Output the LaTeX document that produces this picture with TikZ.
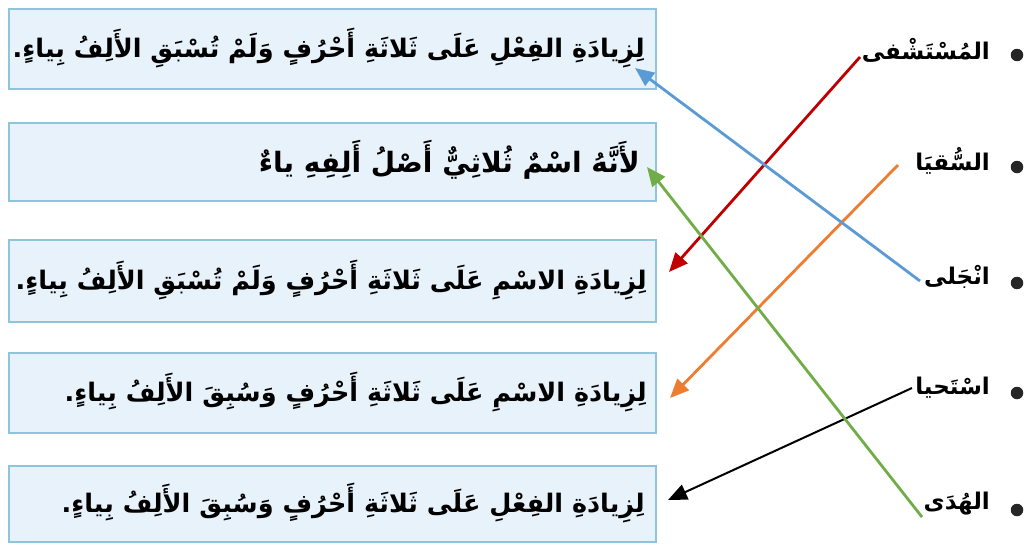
\documentclass[tikz,border=0pt]{standalone}
\usepackage{fontspec}
\usetikzlibrary{arrows.meta}
\TeXXeTstate=1
\newfontfamily\arabicfont[Script=Arabic]{DejaVu Sans}
\definecolor{boxfill}{HTML}{E8F2FA}
\definecolor{boxline}{HTML}{8EC5DC}
\definecolor{cred}{HTML}{C00000}
\definecolor{cblue}{HTML}{5B9BD5}
\definecolor{corange}{HTML}{ED7D31}
\definecolor{cgreen}{HTML}{70AD47}
\tikzset{
  box/.style={draw=boxline, line width=1.5pt, fill=boxfill, anchor=north west, minimum width=647pt, inner sep=0pt},
  btext/.style={anchor=east, font=\arabicfont\bfseries\fontsize{25.5}{30}\selectfont, inner sep=0pt},
  word/.style={anchor=east, font=\arabicfont\bfseries\fontsize{23}{27}\selectfont, inner sep=0pt},
  bullet/.style={circle, fill=black!85, minimum size=12.5pt, inner sep=0pt},
  link/.style={line width=2.8pt, -{Triangle[length=19pt,width=16pt]}},
}
\begin{document}
\begin{tikzpicture}[x=1pt,y=-1pt]
\useasboundingbox (0,0) rectangle (1029,549);
% boxes
\node[box, minimum height=80pt] (b1) at (8,8) {};
\node[box, minimum height=78pt] (b2) at (8,122) {};
\node[box, minimum height=82pt] (b3) at (8,239) {};
\node[box, minimum height=80pt] (b4) at (8,352) {};
\node[box, minimum height=76pt] (b5) at (8,465) {};
% box texts
\node[btext] (t1) at (645,48) {\beginR لِزِيادَةِ الفِعْلِ عَلَى ثَلاثَةِ أَحْرُفٍ وَلَمْ تُسْبَقِ الأَلِفُ بِياءٍ.\endR};
\node[btext, font=\arabicfont\bfseries\fontsize{28}{32}\selectfont] (t2) at (640,160) {\beginR لأَنَّهُ اسْمٌ ثُلاثِيٌّ أَصْلُ أَلِفِهِ ياءٌ\endR};
\node[btext] (t3) at (647,280) {\beginR لِزِيادَةِ الاسْمِ عَلَى ثَلاثَةِ أَحْرُفٍ وَلَمْ تُسْبَقِ الأَلِفُ بِياءٍ.\endR};
\node[btext] (t4) at (647,392) {\beginR لِزِيادَةِ الاسْمِ عَلَى ثَلاثَةِ أَحْرُفٍ وَسُبِقَ الأَلِفُ بِياءٍ.\endR};
\node[btext] (t5) at (645,503) {\beginR لِزِيادَةِ الفِعْلِ عَلَى ثَلاثَةِ أَحْرُفٍ وَسُبِقَ الأَلِفُ بِياءٍ.\endR};
% bullets and words
\node[bullet] (d1) at (1017,55) {};
\node[bullet] (d2) at (1017,167) {};
\node[bullet] (d3) at (1017,283) {};
\node[bullet] (d4) at (1017,393) {};
\node[bullet] (d5) at (1017,510) {};
\node[word] (w1) at (990,50) {\beginR المُسْتَشْفى\endR};
\node[word] (w2) at (990,161) {\beginR السُّقيَا\endR};
\node[word] (w3) at (990,277) {\beginR انْجَلى\endR};
\node[word] (w4) at (990,388) {\beginR اسْتَحيا\endR};
\node[word] (w5) at (990,504) {\beginR الهُدَى\endR};
% connector ends
\coordinate (s1) at (860,57);
\coordinate (s2) at (898,165);
\coordinate (s3) at (920,281);
\coordinate (s4) at (912,388);
\coordinate (s5) at (922,517);
\coordinate (e1) at (635,68);
\coordinate (e2) at (647,167);
\coordinate (e3) at (669,272);
\coordinate (e4) at (670,398);
\coordinate (e5) at (668,500);
% arrows
\draw[link, cred] (s1) -- (e3);
\draw[link, corange] (s2) -- (e4);
\draw[link, cblue] (s3) -- (e1);
\draw[link, black, line width=2pt] (s4) -- (e5);
\draw[link, cgreen] (s5) -- (e2);
\end{tikzpicture}
\end{document}
